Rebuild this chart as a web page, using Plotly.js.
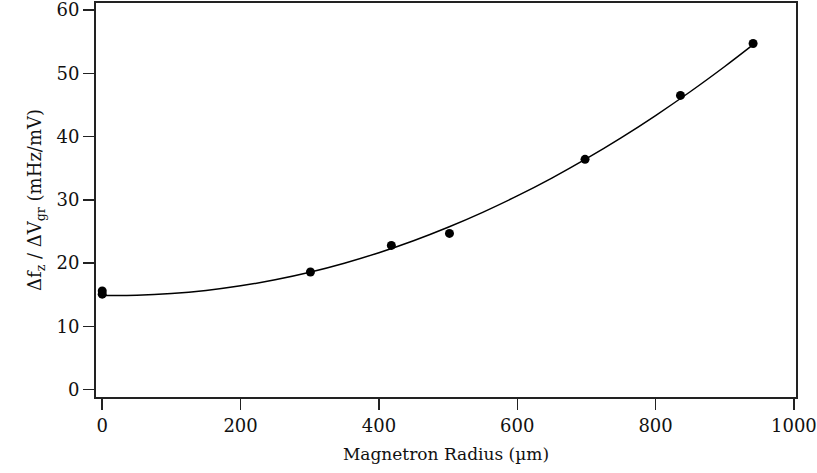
<!DOCTYPE html>
<html>
<head>
<meta charset="utf-8">
<script src="https://cdn.plot.ly/plotly-3.0.1.min.js"></script>
<style>html,body{margin:0;padding:0;background:#fff;}#chart{width:817px;height:473px;}</style>
</head>
<body>
<div id="chart"></div>
<script>
// Measured data points
const radius = [0, 0, 301, 418, 502, 698, 836, 941];
const response = [15.6, 15.1, 18.6, 22.8, 24.7, 36.4, 46.5, 54.7];
// Fit curve
const fitRadius = [0, 50, 100, 150, 200, 250, 300, 350, 400, 450, 500, 550, 600, 650, 700, 750, 800, 850, 900, 942];
const fitResponse = [14.9, 14.93, 15.19, 15.68, 16.41, 17.37, 18.56, 19.99, 21.65, 23.54, 25.67, 28.03, 30.62, 33.44, 36.5, 39.79, 43.32, 47.08, 51.07, 54.6];
const xTicks = [0, 200, 400, 600, 800, 1000];
const yTicks = [0, 10, 20, 30, 40, 50, 60];

const font = 'DejaVu Serif, serif';
const traces = [
  {x: fitRadius, y: fitResponse, mode: 'lines', line: {color: '#000', width: 1.5, shape: 'spline'}, hoverinfo: 'none'},
  {x: radius, y: response, mode: 'markers', marker: {color: '#000', size: 9}, hoverinfo: 'none'}
];
const axisCommon = {
  showgrid: false, zeroline: false, showline: true, mirror: true,
  linecolor: '#222', linewidth: 2, ticks: 'outside', ticklen: 11, tickwidth: 1.5, tickcolor: '#222',
  ticklabeloverflow: 'allow',
  tickfont: {family: font, size: 18, color: '#111'}
};
const layout = {
  width: 817, height: 473,
  margin: {l: 96, r: 21, t: 3, b: 76},
  paper_bgcolor: '#fff', plot_bgcolor: '#fff',
  showlegend: false,
  xaxis: Object.assign({}, axisCommon, {
    range: [-9, 1003], tickvals: xTicks, ticktext: xTicks.map(String),
    title: {text: 'Magnetron Radius (µm)', font: {family: font, size: 17, color: '#111'}, standoff: 14}
  }),
  yaxis: Object.assign({}, axisCommon, {
    range: [-1.15, 61.1], tickvals: yTicks, ticktext: yTicks.map(String),
    ticklabelstandoff: 0,
    title: {text: 'Δf<sub>z</sub> / ΔV<sub>gr</sub> (mHz/mV)', font: {family: font, size: 18, color: '#111'}, standoff: 10}
  })
};
Plotly.newPlot('chart', traces, layout, {staticPlot: true, displayModeBar: false});
</script>
</body>
</html>
